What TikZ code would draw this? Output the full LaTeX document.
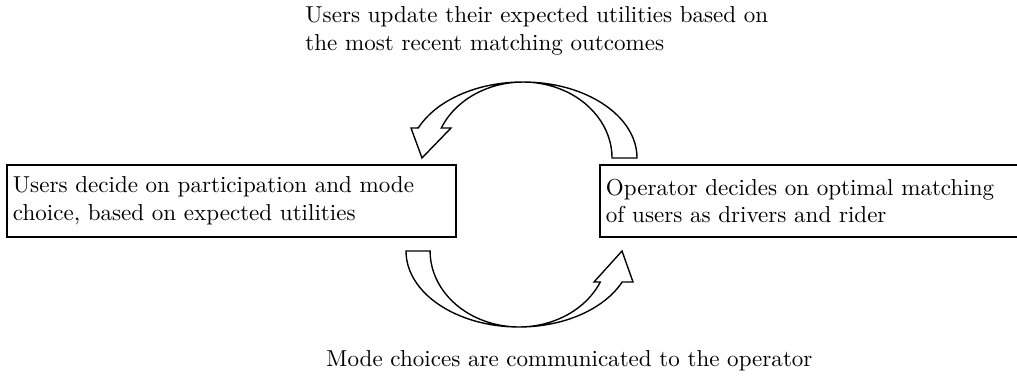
\documentclass[tikz,border=0pt]{standalone}
\begin{document}
\begin{tikzpicture}[x=0.434pt,y=0.434pt,
  stagebox/.style={draw=black,line width=0.8pt,rectangle,
    minimum width=194.9pt,minimum height=31.2pt,
    inner xsep=2.6pt,inner ysep=0pt,text width=189.7pt,align=left},
  cyclearrow/.style={draw=black,fill=white,line width=0.6pt,line join=miter},
  caption/.style={inner sep=0pt,align=left}]
\useasboundingbox (0,0) rectangle (1017,379);
\clip (0,0) rectangle (1017,379);

\node[stagebox] (users) at (231.5,178)
  {Users decide on participation and mode\\choice, based on expected utilities};
\node[stagebox] (operator) at (824.5,178)
  {Operator decides on optimal matching\\of users as drivers and rider};

% top arrow: from operator back to users
\coordinate (tailtopout) at (637,221);
\coordinate (tailtopin) at (612,221);
\path[cyclearrow] (tailtopout)
  arc[start angle=0,end angle=156.7,x radius=114,y radius=76]
  -- (411,251) -- (422,221) -- (451,251)
  -- (441.3,251)
  arc[start angle=156.7,end angle=0,x radius=89,y radius=76]
  -- cycle;

% bottom arrow: from users to operator
\coordinate (tailbotout) at (406,128);
\coordinate (tailbotin) at (430,128);
\path[cyclearrow] (tailbotout)
  arc[start angle=180,end angle=335.9,x radius=113,y radius=76]
  -- (633,97) -- (622,128) -- (594,97)
  -- (600.3,97)
  arc[start angle=335.9,end angle=180,x radius=89,y radius=76]
  -- cycle;

\node[caption,anchor=north west] (toptext) at (305,373)
  {Users update their expected utilities based on\\the most recent matching outcomes};
\node[caption,anchor=base west] (bottext) at (326,12)
  {Mode choices are communicated to the operator};
\end{tikzpicture}
\end{document}
